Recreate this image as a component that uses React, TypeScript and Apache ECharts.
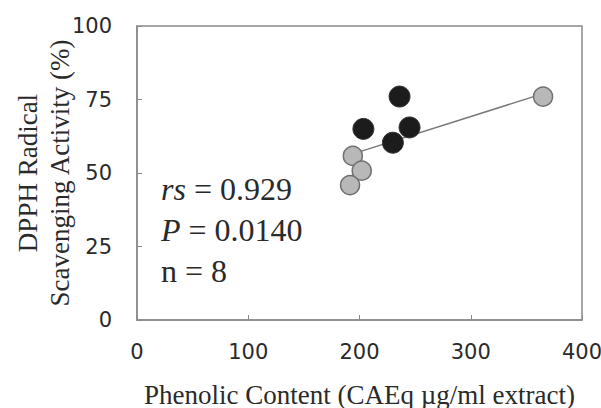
import React, { useEffect, useRef } from "react";
import * as echarts from "echarts";

// Data
const grayX = [365, 194, 202, 191.5];
const grayY = [76, 55.8, 50.8, 45.9];
const blackX = [236, 203.5, 245, 230];
const blackY = [76, 65, 65.5, 60.3];
const trendX = [194, 365];
const trendY = [56.5, 77];

const xTicks = [0, 100, 200, 300, 400];
const yTicks = [0, 25, 50, 75, 100];

const xName = "Phenolic Content (CAEq µg/ml extract)";
const yName = "DPPH Radical\nScavenging Activity (%)";
const statLines = [
  { label: "rs", italic: true, value: "0.929" },
  { label: "P", italic: true, value: "0.0140" },
  { label: "n", italic: false, value: "8" },
];

const serif = "'Liberation Serif', 'Times New Roman', serif";
const sans = "'DejaVu Sans', sans-serif";

export default function App() {
  const ref = useRef<HTMLDivElement>(null);
  useEffect(() => {
    if (!ref.current) return;
    const chart = echarts.init(ref.current, undefined, { renderer: "svg" });
    const pair = (xs: number[], ys: number[]) => xs.map((x, i) => [x, ys[i]]);
    chart.setOption({
      animation: false,
      backgroundColor: "#ffffff",
      grid: {
        left: 137,
        top: 26,
        right: 19,
        bottom: 88,
        containLabel: false,
        outerBoundsMode: "none",
        show: true,
        borderColor: "#8a8a8a",
        borderWidth: 1.5,
      },
      xAxis: {
        type: "value",
        min: xTicks[0],
        max: xTicks[xTicks.length - 1],
        interval: 100,
        name: xName,
        nameLocation: "middle",
        nameMoveOverlap: false,
        nameGap: 61,
        nameTextStyle: { fontFamily: serif, fontSize: 27, color: "#2a2a2a" },
        axisLine: { show: true, lineStyle: { color: "#8a8a8a", width: 1.5 } },
        axisTick: { show: true, inside: true, length: 5, lineStyle: { color: "#8a8a8a" } },
        axisLabel: { fontFamily: sans, fontSize: 21, color: "#2a2a2a", margin: 21 },
        splitLine: { show: false },
      },
      yAxis: {
        type: "value",
        min: yTicks[0],
        max: yTicks[yTicks.length - 1],
        interval: 25,
        name: yName,
        nameLocation: "middle",
        nameRotate: 90,
        nameMoveOverlap: false,
        nameGap: 61,
        nameTextStyle: { fontFamily: serif, fontSize: 27, lineHeight: 32, color: "#2a2a2a" },
        axisLine: { show: true, lineStyle: { color: "#8a8a8a", width: 1.5 } },
        axisTick: { show: true, inside: true, length: 5, lineStyle: { color: "#8a8a8a" } },
        axisLabel: { fontFamily: sans, fontSize: 21, color: "#2a2a2a", margin: 25 },
        splitLine: { show: false },
      },
      graphic: statLines.map((s, i) => ({
        type: "text",
        left: 161,
        top: 173 + i * 41,
        style: {
          text: `{${s.italic ? "it" : "rm"}|${s.label}}{rm| = ${s.value}}`,
          rich: {
            it: { fontFamily: serif, fontSize: 32, fontStyle: "italic", fill: "#2a2a2a" },
            rm: { fontFamily: serif, fontSize: 32, fill: "#2a2a2a" },
          },
        },
      })),
      series: [
        {
          type: "line",
          data: pair(trendX, trendY),
          symbol: "none",
          lineStyle: { color: "#7a7a7a", width: 1.5 },
          z: 1,
        },
        {
          type: "scatter",
          data: pair(grayX, grayY),
          symbolSize: 19,
          itemStyle: { color: "#b8b8b8", borderColor: "#707070", borderWidth: 1.5, opacity: 1 },
          z: 2,
        },
        {
          type: "scatter",
          data: pair(blackX, blackY),
          symbolSize: 21,
          itemStyle: { color: "#1c1c1c", borderColor: "#333", borderWidth: 1, opacity: 1 },
          z: 3,
        },
      ],
    });
    return () => chart.dispose();
  }, []);
  return <div ref={ref} style={{ width: 601, height: 408, position: "absolute", left: 0, top: 0 }} />;
}
